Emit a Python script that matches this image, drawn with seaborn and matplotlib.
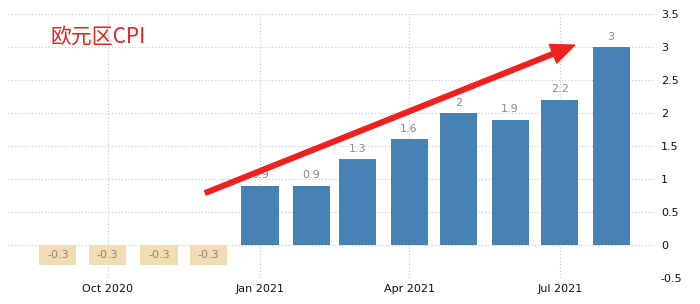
import matplotlib
matplotlib.use("Agg")
import matplotlib.pyplot as plt
import matplotlib.dates as mdates
import seaborn as sns
import pandas as pd

# ---- data ----
months = ["2020-09-01", "2020-10-01", "2020-11-01", "2020-12-01",
          "2021-01-01", "2021-02-01", "2021-03-01", "2021-04-01",
          "2021-05-01", "2021-06-01", "2021-07-01", "2021-08-01"]
cpi = [-0.3, -0.3, -0.3, -0.3, 0.9, 0.9, 1.3, 1.6, 2.0, 1.9, 2.2, 3.0]
tick_dates = ["2020-10-01", "2021-01-01", "2021-04-01", "2021-07-01"]
tick_labels = ["Oct 2020", "Jan 2021", "Apr 2021", "Jul 2021"]
y_ticks = [-0.5, 0, 0.5, 1, 1.5, 2, 2.5, 3, 3.5]
title = "欧元区CPI"

blue = "#4682B4"
beige = "#F3DCB1"
label_gray = "#8a8a8a"

sns.set_theme(style="white")
plt.rcParams["font.family"] = ["DejaVu Sans"]

df = pd.DataFrame({
    "x": mdates.date2num(pd.to_datetime(months)),
    "cpi": cpi,
    "sign": ["neg" if v < 0 else "pos" for v in cpi],
})

fig = plt.figure(figsize=(7, 3.04), dpi=100)
ax = fig.add_axes([0.012, 0.0855, 0.924, 0.868])

sns.barplot(data=df, x="x", y="cpi", hue="sign", hue_order=["neg", "pos"],
            palette={"neg": beige, "pos": blue}, native_scale=True,
            dodge=False, width=0.8, saturation=1, legend=False,
            linewidth=0, edgecolor="none", ax=ax)

for cont, lvl in zip(ax.containers, ["neg", "pos"]):
    if lvl == "neg":
        ax.bar_label(cont, fmt=lambda v: f"{v:g}", label_type="center",
                     color=label_gray, fontsize=8)
    else:
        ax.bar_label(cont, fmt=lambda v: f"{v:g}", padding=4,
                     color=label_gray, fontsize=8)

x0 = mdates.date2num(pd.Timestamp("2020-09-01")) - 29.9
x1 = mdates.date2num(pd.Timestamp("2021-08-01")) + 26.6
ax.set_xlim(x0, x1)
ax.set_ylim(-0.5, 3.5)

ax.set_xticks(mdates.date2num(pd.to_datetime(tick_dates)))
ax.set_xticklabels(tick_labels, fontsize=8, color="#111111")
ax.yaxis.tick_right()
ax.set_yticks(y_ticks)
ax.set_yticklabels([f"{v:g}" for v in y_ticks], fontsize=8, color="#111111")
ax.tick_params(length=0, pad=4)
ax.set_xlabel("")
ax.set_ylabel("")
for s in ax.spines.values():
    s.set_visible(False)
ax.grid(True, linestyle=(0, (1, 2)), color="#c8c8c8", linewidth=0.8)
ax.set_axisbelow(True)

# red annotation arrow
start = (mdates.date2num(pd.Timestamp("2020-11-29")), 0.79)
end = (mdates.date2num(pd.Timestamp("2021-07-10")), 3.03)
ax.annotate("", xy=end, xytext=start, xycoords="data",
            arrowprops=dict(arrowstyle="simple,head_length=1.4,head_width=1.2,tail_width=0.28",
                            color="#F0201C", shrinkA=0, shrinkB=0,
                            mutation_scale=12), annotation_clip=False)

fig.text(50 / 700, 1 - 37 / 304, title, color="#E8231F", fontsize=15,
         va="center", ha="left", family=["Noto Sans CJK SC", "DejaVu Sans"])

fig.savefig("out.png", dpi=100)
